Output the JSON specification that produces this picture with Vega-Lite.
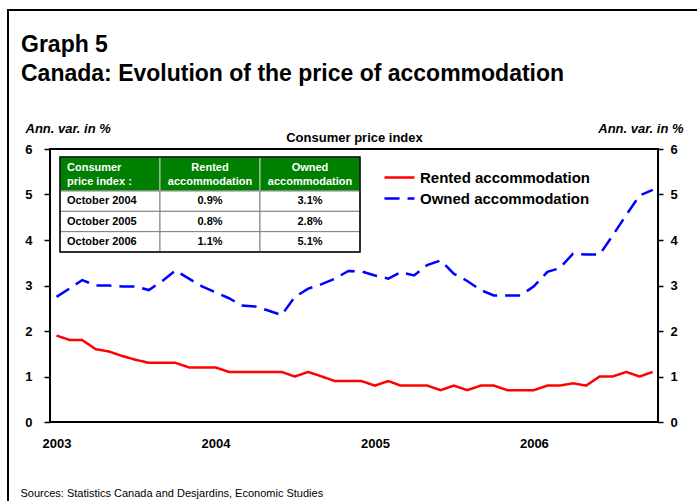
{
  "$schema": "https://vega.github.io/schema/vega-lite/v6.json",
  "width": 608,
  "height": 273,
  "autosize": {"type": "none"},
  "padding": {"left": 50, "top": 149, "right": 39, "bottom": 79},
  "background": "white",
  "config": {
    "font": "Liberation Sans",
    "view": {"stroke": "#000", "strokeWidth": 2},
    "axis": {"domain": false, "grid": false, "labelFont": "Liberation Sans", "titleFont": "Liberation Sans", "labelColor": "#000", "titleColor": "#000", "tickColor": "#000", "tickWidth": 1.5}
  },
  "title": {
    "text": ["Graph 5", "Canada: Evolution of the price of accommodation"],
    "anchor": "start",
    "frame": "group",
    "fontSize": 23,
    "fontWeight": "bold",
    "lineHeight": 29,
    "dx": -29,
    "offset": -77,
    "color": "#000",
    "font": "Liberation Sans"
  },
  "datasets": {
    "cpi": [
      {"date": "2003-01-01", "Rented accommodation": 1.9, "Owned accommodation": 2.75},
      {"date": "2003-02-01", "Rented accommodation": 1.8, "Owned accommodation": 2.94},
      {"date": "2003-03-01", "Rented accommodation": 1.8, "Owned accommodation": 3.12},
      {"date": "2003-04-01", "Rented accommodation": 1.6, "Owned accommodation": 3.0},
      {"date": "2003-05-01", "Rented accommodation": 1.55, "Owned accommodation": 3.0},
      {"date": "2003-06-01", "Rented accommodation": 1.45, "Owned accommodation": 2.98},
      {"date": "2003-07-01", "Rented accommodation": 1.37, "Owned accommodation": 2.98},
      {"date": "2003-08-01", "Rented accommodation": 1.3, "Owned accommodation": 2.9},
      {"date": "2003-09-01", "Rented accommodation": 1.3, "Owned accommodation": 3.1},
      {"date": "2003-10-01", "Rented accommodation": 1.3, "Owned accommodation": 3.33},
      {"date": "2003-11-01", "Rented accommodation": 1.2, "Owned accommodation": 3.15},
      {"date": "2003-12-01", "Rented accommodation": 1.2, "Owned accommodation": 2.98},
      {"date": "2004-01-01", "Rented accommodation": 1.2, "Owned accommodation": 2.85},
      {"date": "2004-02-01", "Rented accommodation": 1.1, "Owned accommodation": 2.72},
      {"date": "2004-03-01", "Rented accommodation": 1.1, "Owned accommodation": 2.56},
      {"date": "2004-04-01", "Rented accommodation": 1.1, "Owned accommodation": 2.54},
      {"date": "2004-05-01", "Rented accommodation": 1.1, "Owned accommodation": 2.45},
      {"date": "2004-06-01", "Rented accommodation": 1.1, "Owned accommodation": 2.35},
      {"date": "2004-07-01", "Rented accommodation": 1.0, "Owned accommodation": 2.75},
      {"date": "2004-08-01", "Rented accommodation": 1.1, "Owned accommodation": 2.93},
      {"date": "2004-09-01", "Rented accommodation": 1.0, "Owned accommodation": 3.03},
      {"date": "2004-10-01", "Rented accommodation": 0.9, "Owned accommodation": 3.15},
      {"date": "2004-11-01", "Rented accommodation": 0.9, "Owned accommodation": 3.32},
      {"date": "2004-12-01", "Rented accommodation": 0.9, "Owned accommodation": 3.31},
      {"date": "2005-01-01", "Rented accommodation": 0.8, "Owned accommodation": 3.22},
      {"date": "2005-02-01", "Rented accommodation": 0.9, "Owned accommodation": 3.15},
      {"date": "2005-03-01", "Rented accommodation": 0.8, "Owned accommodation": 3.29},
      {"date": "2005-04-01", "Rented accommodation": 0.8, "Owned accommodation": 3.22},
      {"date": "2005-05-01", "Rented accommodation": 0.8, "Owned accommodation": 3.45},
      {"date": "2005-06-01", "Rented accommodation": 0.7, "Owned accommodation": 3.55},
      {"date": "2005-07-01", "Rented accommodation": 0.8, "Owned accommodation": 3.26},
      {"date": "2005-08-01", "Rented accommodation": 0.7, "Owned accommodation": 3.1},
      {"date": "2005-09-01", "Rented accommodation": 0.8, "Owned accommodation": 2.9},
      {"date": "2005-10-01", "Rented accommodation": 0.8, "Owned accommodation": 2.78},
      {"date": "2005-11-01", "Rented accommodation": 0.7, "Owned accommodation": 2.78},
      {"date": "2005-12-01", "Rented accommodation": 0.7, "Owned accommodation": 2.78},
      {"date": "2006-01-01", "Rented accommodation": 0.7, "Owned accommodation": 2.98},
      {"date": "2006-02-01", "Rented accommodation": 0.8, "Owned accommodation": 3.3},
      {"date": "2006-03-01", "Rented accommodation": 0.8, "Owned accommodation": 3.38},
      {"date": "2006-04-01", "Rented accommodation": 0.85, "Owned accommodation": 3.7},
      {"date": "2006-05-01", "Rented accommodation": 0.8, "Owned accommodation": 3.68},
      {"date": "2006-06-01", "Rented accommodation": 1.0, "Owned accommodation": 3.68},
      {"date": "2006-07-01", "Rented accommodation": 1.0, "Owned accommodation": 4.1},
      {"date": "2006-08-01", "Rented accommodation": 1.1, "Owned accommodation": 4.55},
      {"date": "2006-09-01", "Rented accommodation": 1.0, "Owned accommodation": 4.98},
      {"date": "2006-10-01", "Rented accommodation": 1.1, "Owned accommodation": 5.1}
    ],
    "tableHeader": [
      {"col": "c1", "row": "h", "text": "Consumer\nprice index :"},
      {"col": "c2", "row": "h", "text": "Rented\naccommodation"},
      {"col": "c3", "row": "h", "text": "Owned\naccommodation"}
    ],
    "tableBody": [
      {"col": "c1", "row": "r1", "text": "October 2004"},
      {"col": "c2", "row": "r1", "text": "0.9%"},
      {"col": "c3", "row": "r1", "text": "3.1%"},
      {"col": "c1", "row": "r2", "text": "October 2005"},
      {"col": "c2", "row": "r2", "text": "0.8%"},
      {"col": "c3", "row": "r2", "text": "2.8%"},
      {"col": "c1", "row": "r3", "text": "October 2006"},
      {"col": "c2", "row": "r3", "text": "1.1%"},
      {"col": "c3", "row": "r3", "text": "5.1%"}
    ]
  },
  "resolve": {"scale": {"x": "independent", "y": "independent"}},
  "layer": [
    {
      "data": {"values": [{"k": "page"}]},
      "mark": {"type": "rect", "filled": false, "stroke": "#000", "strokeWidth": 2},
      "encoding": {
        "x": {"field": "k", "type": "nominal", "axis": null, "scale": {"range": [-42, 720], "paddingInner": 0, "paddingOuter": 0}},
        "y": {"field": "k", "type": "nominal", "axis": null, "scale": {"range": [-139, 400], "paddingInner": 0, "paddingOuter": 0}}
      }
    },
    {
      "data": {"name": "cpi"},
      "transform": [{"fold": ["Rented accommodation", "Owned accommodation"], "as": ["series", "value"]}],
      "mark": {"type": "line", "strokeWidth": 2.5},
      "encoding": {
        "x": {
          "field": "date", "type": "temporal",
          "scale": {"type": "utc", "domain": [{"year": 2002, "month": 12, "date": 17, "utc": true}, {"year": 2006, "month": 10, "date": 13, "utc": true}]},
          "axis": {
            "orient": "bottom",
            "values": [{"year": 2003, "month": 1, "date": 1, "utc": true}, {"year": 2004, "month": 1, "date": 1, "utc": true}, {"year": 2005, "month": 1, "date": 1, "utc": true}, {"year": 2006, "month": 1, "date": 1, "utc": true}],
            "format": "%Y",
            "labelFontSize": 13, "labelFontWeight": "bold",
            "ticks": false, "tickSize": 0, "labelPadding": 15,
            "labelFlush": false, "labelOverlap": false,
            "title": "Sources: Statistics Canada and Desjardins, Economic Studies",
            "titleFontSize": 11, "titleFontWeight": "normal",
            "titleX": -30, "titleY": 74, "titleAlign": "left", "titleBaseline": "alphabetic"
          }
        },
        "y": {
          "field": "value", "type": "quantitative",
          "scale": {"domain": [0, 6]},
          "axis": {
            "orient": "left", "values": [0, 1, 2, 3, 4, 5, 6],
            "tickSize": 6, "labelPadding": 12,
            "labelFontSize": 13, "labelFontWeight": "bold",
            "title": "Ann. var. in %", "titleAngle": 0, "titleX": -25, "titleY": -17,
            "titleAlign": "left", "titleBaseline": "alphabetic",
            "titleFontSize": 13, "titleFontStyle": "italic", "titleFontWeight": "bold"
          }
        },
        "color": {
          "field": "series", "type": "nominal",
          "scale": {"domain": ["Rented accommodation", "Owned accommodation"], "range": ["#ff0000", "#0000ff"]},
          "legend": {"orient": "none", "legendX": 338, "legendY": 17, "title": null, "symbolType": "M-1.5,0L1.5,0", "symbolSize": 400, "symbolStrokeWidth": 2.5, "labelFontSize": 15, "labelFontWeight": "bold", "labelColor": "#000", "labelOffset": 9, "labelLimit": 400, "rowPadding": 1, "labelFont": "Liberation Sans"}
        },
        "strokeDash": {
          "field": "series", "type": "nominal",
          "scale": {"domain": ["Rented accommodation", "Owned accommodation"], "range": [[1, 0], [15, 8]]},
          "legend": {"orient": "none", "legendX": 338, "legendY": 17, "title": null, "symbolType": "M-1.5,0L1.5,0", "symbolSize": 400, "symbolStrokeWidth": 2.5, "labelFontSize": 15, "labelFontWeight": "bold", "labelColor": "#000", "labelOffset": 9, "labelLimit": 400, "rowPadding": 1, "labelFont": "Liberation Sans"}
        }
      }
    },
    {
      "data": {"name": "cpi"},
      "mark": {"type": "line", "opacity": 0},
      "encoding": {
        "x": {
          "field": "date", "type": "temporal",
          "scale": {"type": "utc", "domain": [{"year": 2002, "month": 12, "date": 17, "utc": true}, {"year": 2006, "month": 10, "date": 13, "utc": true}]},
          "axis": {"orient": "top", "labels": false, "ticks": false, "title": "Consumer price index", "titleFontSize": 13, "titleFontWeight": "bold", "titleY": -8, "titleBaseline": "alphabetic"}
        },
        "y": {
          "field": "Rented accommodation", "type": "quantitative",
          "scale": {"domain": [0, 6]},
          "axis": {
            "orient": "right", "values": [0, 1, 2, 3, 4, 5, 6],
            "tickSize": 5, "labelPadding": 7,
            "labelFontSize": 13, "labelFontWeight": "bold",
            "title": "Ann. var. in %", "titleAngle": 0, "titleX": 25, "titleY": -17,
            "titleAlign": "right", "titleBaseline": "alphabetic",
            "titleFontSize": 13, "titleFontStyle": "italic", "titleFontWeight": "bold"
          }
        }
      }
    },
    {
      "data": {"name": "tableHeader"},
      "encoding": {
        "x": {"field": "col", "type": "nominal", "axis": null, "scale": {"range": [10, 310], "paddingInner": 0, "paddingOuter": 0}},
        "y": {"field": "row", "type": "nominal", "axis": null, "scale": {"range": [8, 42], "paddingInner": 0, "paddingOuter": 0}}
      },
      "layer": [
        {"mark": {"type": "rect", "fill": "#008000", "stroke": "#c8c8c8", "strokeWidth": 1}},
        {
          "transform": [{"filter": "datum.col == 'c1'"}],
          "mark": {"type": "text", "align": "left", "baseline": "middle", "dx": 7, "dy": -6, "color": "#fff", "fontSize": 11, "fontWeight": "bold", "lineBreak": "\n", "lineHeight": 14},
          "encoding": {"x": {"field": "col", "type": "nominal", "bandPosition": 0}, "y": {"field": "row", "type": "nominal", "bandPosition": 0.5}, "text": {"field": "text"}}
        },
        {
          "transform": [{"filter": "datum.col != 'c1'"}],
          "mark": {"type": "text", "align": "center", "baseline": "middle", "dy": -6, "color": "#fff", "fontSize": 11, "fontWeight": "bold", "lineBreak": "\n", "lineHeight": 14},
          "encoding": {"x": {"field": "col", "type": "nominal", "bandPosition": 0.5}, "y": {"field": "row", "type": "nominal", "bandPosition": 0.5}, "text": {"field": "text"}}
        }
      ]
    },
    {
      "data": {"name": "tableBody"},
      "encoding": {
        "x": {"field": "col", "type": "nominal", "axis": null, "scale": {"range": [10, 310], "paddingInner": 0, "paddingOuter": 0}},
        "y": {"field": "row", "type": "nominal", "axis": null, "scale": {"range": [42, 103], "paddingInner": 0, "paddingOuter": 0}}
      },
      "layer": [
        {"mark": {"type": "rect", "fill": "#fff", "stroke": "#808080", "strokeWidth": 1}},
        {
          "transform": [{"filter": "datum.col == 'c1'"}],
          "mark": {"type": "text", "align": "left", "baseline": "middle", "dx": 7, "color": "#000", "fontSize": 11, "fontWeight": "bold"},
          "encoding": {"x": {"field": "col", "type": "nominal", "bandPosition": 0}, "y": {"field": "row", "type": "nominal", "bandPosition": 0.5}, "text": {"field": "text"}}
        },
        {
          "transform": [{"filter": "datum.col != 'c1'"}],
          "mark": {"type": "text", "align": "center", "baseline": "middle", "color": "#000", "fontSize": 11, "fontWeight": "bold"},
          "encoding": {"x": {"field": "col", "type": "nominal", "bandPosition": 0.5}, "y": {"field": "row", "type": "nominal", "bandPosition": 0.5}, "text": {"field": "text"}}
        }
      ]
    },
    {
      "data": {"values": [{"k": "table"}]},
      "mark": {"type": "rect", "filled": false, "stroke": "#000", "strokeWidth": 1.5},
      "encoding": {
        "x": {"field": "k", "type": "nominal", "axis": null, "scale": {"range": [10, 310], "paddingInner": 0, "paddingOuter": 0}},
        "y": {"field": "k", "type": "nominal", "axis": null, "scale": {"range": [8, 103], "paddingInner": 0, "paddingOuter": 0}}
      }
    }
  ]
}
